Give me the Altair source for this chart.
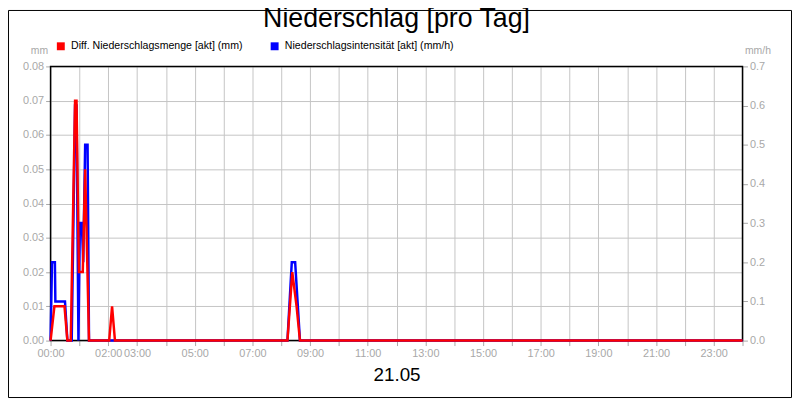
import json
import altair as alt
import pandas as pd

# ---- data ----
series_names = ["Diff. Niederschlagsmenge [akt] (mm)", "Niederschlagsintensität [akt] (mm/h)"]
series_colors = ["#ff0000", "#0000ff"]

# minutes after midnight, 21.05
red_minutes = [0, 8, 29, 35, 42, 51, 54, 59, 67, 72, 80, 122, 128, 134, 493, 503, 512, 519, 1440]
red_values = [0, 0.01, 0.01, 0, 0, 0.07, 0.07, 0.02, 0.02, 0.05, 0, 0, 0.01, 0, 0, 0.02, 0.01, 0, 0]

blue_minutes = [0, 3, 9, 10, 30, 35, 44, 51, 54, 58, 61, 65, 68, 72, 77, 80, 493, 502, 509, 519, 1440]
blue_values = [0, 0.2, 0.2, 0.1, 0.1, 0, 0, 0.6, 0.6, 0, 0.3, 0.3, 0.2, 0.5, 0.5, 0, 0, 0.2, 0.2, 0, 0]

hour_ticks = list(range(0, 1441, 60))
shown_labels = ["00:00", "02:00", "03:00", "05:00", "07:00", "09:00", "11:00", "13:00",
                "15:00", "17:00", "19:00", "21:00", "23:00"]
left_ticks = [0, 0.01, 0.02, 0.03, 0.04, 0.05, 0.06, 0.07, 0.08]
right_ticks = [0, 0.1, 0.2, 0.3, 0.4, 0.5, 0.6, 0.7]
day_label = "21.05"
chart_title = "Niederschlag [pro Tag]"

red_df = pd.DataFrame({"t": red_minutes, "v": red_values, "s": series_names[0]})
blue_df = pd.DataFrame({"t": blue_minutes, "v": blue_values, "s": series_names[1]})

FONT = "Liberation Sans"
GRAY = "#a8a8a8"
GRID = "#c4c4c4"

hh = "(datum.value < 600 ? '0' : '') + floor(datum.value / 60) + ':00'"
label_expr = f"indexof({json.dumps(shown_labels)}, {hh}) >= 0 ? {hh} : ''"

x_enc = alt.X(
    "t:Q",
    scale=alt.Scale(domain=[0, 1440], nice=False, zero=False),
    axis=alt.Axis(
        values=hour_ticks, labelExpr=label_expr, labelOverlap=False, labelFlush=False,
        grid=True, gridColor=GRID, gridWidth=1, domain=False,
        ticks=True, tickColor=GRAY, tickSize=5, labelColor=GRAY, labelFont=FONT,
        labelFontSize=11, labelPadding=2,
        title=day_label, titleFont=FONT, titleFontSize=19, titleFontWeight="normal",
        titleColor="black", titlePadding=7,
    ),
)

color_enc = alt.Color(
    "s:N",
    scale=alt.Scale(domain=series_names, range=series_colors),
    legend=alt.Legend(
        title=None, orient="none", legendX=5, legendY=-26, direction="horizontal",
        columns=2, columnPadding=22, symbolType="square", symbolSize=16,
        symbolStrokeWidth=4, labelFont=FONT, labelFontSize=10.7, labelColor="black",
        labelOffset=5, padding=0, labelLimit=0,
    ),
)

blue_line = alt.Chart(blue_df).mark_line(strokeWidth=2.5, interpolate="linear").encode(
    x=x_enc,
    y=alt.Y(
        "v:Q",
        scale=alt.Scale(domain=[0, 0.7], nice=False),
        axis=alt.Axis(
            orient="right", values=right_ticks, format=".1f", grid=False, domain=False,
            tickColor=GRAY, tickSize=5, labelColor=GRAY, labelFont=FONT, labelFontSize=11,
            labelPadding=2, title="mm/h", titleAngle=0, titleAlign="left", titleX=2,
            titleY=-13, titleBaseline="alphabetic", titleFont=FONT, titleFontSize=10.5,
            titleFontWeight="normal", titleColor=GRAY,
        ),
    ),
    color=color_enc,
)

red_line = alt.Chart(red_df).mark_line(strokeWidth=2.5, interpolate="linear").encode(
    x=x_enc,
    y=alt.Y(
        "v:Q",
        scale=alt.Scale(domain=[0, 0.08], nice=False),
        axis=alt.Axis(
            orient="left", values=left_ticks, format=".2f", grid=True, gridColor=GRID,
            domain=False, tickColor=GRAY, tickSize=5, labelColor=GRAY, labelFont=FONT,
            labelFontSize=11, labelPadding=2, title="mm", titleAngle=0, titleAlign="right",
            titleX=-3, titleY=-13, titleBaseline="alphabetic", titleFont=FONT,
            titleFontSize=10.5, titleFontWeight="normal", titleColor=GRAY,
        ),
    ),
    color=color_enc,
)

dummy = pd.DataFrame({"k": [0]})

# outer border of the whole picture
outer_border = alt.Chart(dummy).mark_rect(
    fill=None, stroke="black", strokeWidth=1
).encode(
    x=alt.value(-42.5), x2=alt.value(748.5), y=alt.value(-56.5), y2=alt.value(334.5)
)

# black frame around the plot area, drawn above the grid but below the lines
plot_frame = alt.Chart(dummy).mark_rect(
    fill=None, stroke="black", strokeWidth=1.5
).encode(
    x=alt.value(0), x2=alt.value("width"), y=alt.value(0), y2=alt.value("height")
)

chart = (
    alt.layer(outer_border, plot_frame, blue_line, red_line)
    .resolve_scale(y="independent")
    .properties(
        width=699, height=277,
        autosize=alt.AutoSizeParams(type="none"),
        padding={"left": 43, "top": 57, "right": 50, "bottom": 58},
        title=alt.TitleParams(
            chart_title, font=FONT, fontSize=27, fontWeight="normal", color="black",
            anchor="middle", baseline="alphabetic", offset=0, dy=44,
        ),
        background="white",
    )
    .configure_view(stroke=None)
)

chart.save("out.html", embed_options={"renderer": "svg", "actions": False})
